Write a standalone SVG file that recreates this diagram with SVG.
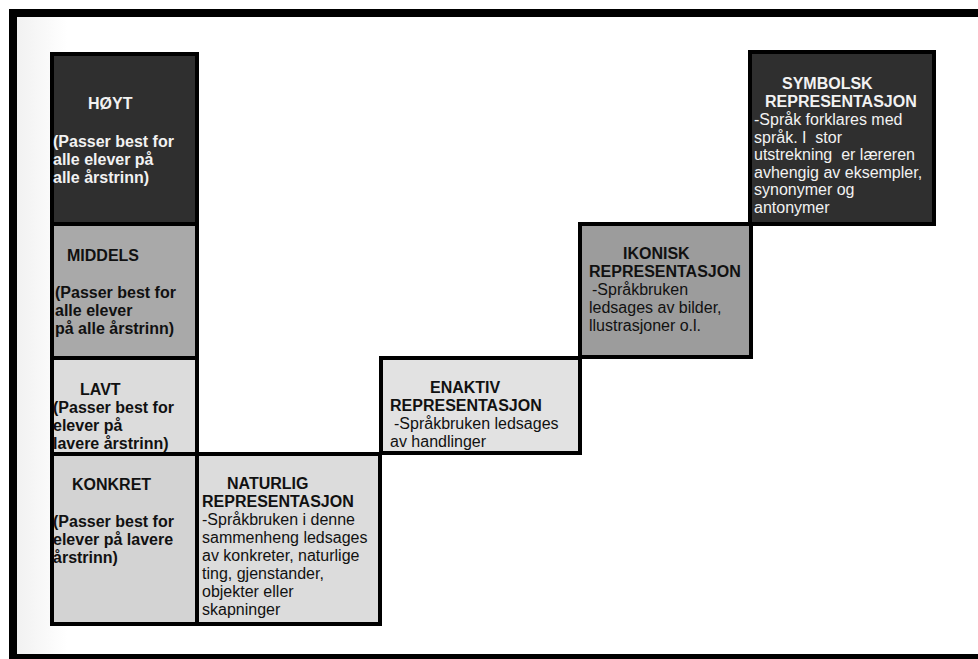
<svg xmlns="http://www.w3.org/2000/svg" width="978" height="659" viewBox="0 0 978 659">
<defs>
<linearGradient id="scan" x1="0" y1="0" x2="1" y2="0">
<stop offset="0" stop-color="#f1f1f1"/>
<stop offset="1" stop-color="#ffffff"/>
</linearGradient>
<style>
text{font-family:"Liberation Sans",Arial,sans-serif;font-size:16px;}
.b{font-weight:bold;}
.w{fill:#f2f2f2;}
.k{fill:#111;}
.box{stroke:#000;stroke-width:4;}
.dark{fill:#2f2f2f;}
.mid{fill:#a9a9a9;}
.ik{fill:#9c9c9c;}
.light{fill:#dcdcdc;}
.lighter{fill:#e2e2e2;}
.kon{fill:#d3d3d3;}
</style>
</defs>
<rect x="0" y="0" width="978" height="659" fill="#ffffff"/>
<rect x="17" y="17" width="50" height="638" fill="url(#scan)"/>
<g id="frame" fill="#000">
<rect x="9" y="9" width="969" height="8"/>
<rect x="9" y="9" width="8" height="650"/>
<rect x="9" y="654" width="969" height="5"/>
</g>
<g id="hoyt">
<rect class="box dark" x="52" y="54" width="145" height="170"/>
<text class="b w" x="88" y="109">HØYT</text>
<text class="b w" x="53" y="147">(Passer best for</text>
<text class="b w" x="53" y="165">alle elever på</text>
<text class="b w" x="53" y="183">alle årstrinn)</text>
</g>
<g id="middels">
<rect class="box mid" x="52" y="224" width="145" height="134"/>
<text class="b k" x="67" y="261">MIDDELS</text>
<text class="b k" x="55" y="298">(Passer best for</text>
<text class="b k" x="55" y="316">alle elever</text>
<text class="b k" x="55" y="334">på alle årstrinn)</text>
</g>
<g id="lavt">
<rect class="box light" x="52" y="358" width="145" height="96"/>
<text class="b k" x="80" y="395">LAVT</text>
<text class="b k" x="53" y="413">(Passer best for</text>
<text class="b k" x="53" y="431">elever på</text>
<text class="b k" x="53" y="449">lavere årstrinn)</text>
</g>
<g id="konkret">
<rect class="box kon" x="52" y="454" width="145" height="170"/>
<text class="b k" x="72" y="490">KONKRET</text>
<text class="b k" x="53" y="527">(Passer best for</text>
<text class="b k" x="53" y="545">elever på lavere</text>
<text class="b k" x="53" y="563">årstrinn)</text>
</g>
<g id="naturlig">
<rect class="box light" x="197" y="454" width="183" height="170"/>
<text class="b k" x="227" y="489">NATURLIG</text>
<text class="b k" x="202" y="507">REPRESENTASJON</text>
<text class="k" x="202" y="525">-Språkbruken i denne</text>
<text class="k" x="202" y="543">sammenheng ledsages</text>
<text class="k" x="202" y="561">av konkreter, naturlige</text>
<text class="k" x="202" y="579">ting, gjenstander,</text>
<text class="k" x="202" y="597">objekter eller</text>
<text class="k" x="202" y="615">skapninger</text>
</g>
<g id="enaktiv">
<rect class="box lighter" x="381" y="358" width="199" height="95"/>
<text class="b k" x="430" y="393">ENAKTIV</text>
<text class="b k" x="390" y="411">REPRESENTASJON</text>
<text class="k" x="394" y="429">-Språkbruken ledsages</text>
<text class="k" x="390" y="447">av handlinger</text>
</g>
<g id="ikonisk">
<rect class="box ik" x="580" y="224" width="171" height="133"/>
<text class="b k" x="623" y="259">IKONISK</text>
<text class="b k" x="589" y="277">REPRESENTASJON</text>
<text class="k" x="592" y="295">-Språkbruken</text>
<text class="k" x="589" y="313">ledsages av bilder,</text>
<text class="k" x="589" y="331">llustrasjoner o.l.</text>
</g>
<g id="symbolsk">
<rect class="box dark" x="750" y="52" width="184" height="172"/>
<text class="b w" x="782" y="89">SYMBOLSK</text>
<text class="b w" x="765" y="107">REPRESENTASJON</text>
<text class="w" x="754" y="125">-Språk forklares med</text>
<text class="w" x="754" y="143" xml:space="preserve">språk. I  stor</text>
<text class="w" x="754" y="160" xml:space="preserve">utstrekning  er læreren</text>
<text class="w" x="754" y="178">avhengig av eksempler,</text>
<text class="w" x="754" y="195">synonymer og</text>
<text class="w" x="754" y="213">antonymer</text>
</g>
<g id="connectors"></g>
</svg>
